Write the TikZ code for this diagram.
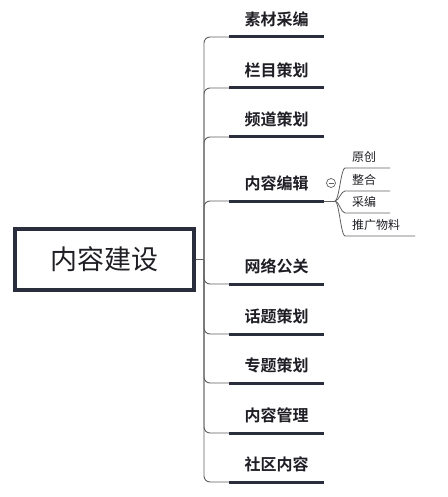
\documentclass[tikz,border=0pt]{standalone}
\usepackage{fontspec}
\setmainfont{Noto Sans CJK SC}
\newfontfamily\cjkbold{Noto Sans CJK SC Bold}
\definecolor{darkline}{RGB}{42,46,60}
\definecolor{thinline}{RGB}{95,95,95}
\definecolor{txt}{RGB}{30,30,36}
\begin{document}
\begin{tikzpicture}[x=1pt,y=-1pt,
  rootbox/.style={draw=darkline, line width=4pt, minimum width=179pt, minimum height=61pt, inner sep=0pt, font=\fontsize{27}{30}\selectfont, text=txt},
  branchlabel/.style={font=\cjkbold\fontsize{16}{18}\selectfont, text=txt, inner sep=0pt},
  sublabel/.style={font=\fontsize{12}{14}\selectfont, text=txt, inner sep=0pt, anchor=west},
  thickline/.style={draw=darkline, line width=3pt},
  thinlink/.style={draw=thinline, line width=0.9pt, rounded corners=6pt},
  sublink/.style={draw=thinline, line width=0.8pt}]
\useasboundingbox (0,0) rectangle (447,497);
\node[rootbox] (root) at (104.5,259.5) {内容建设};
\coordinate (trunk) at (204,259.5);
\draw[thinlink] (root.east) -- (trunk);
% branches
\foreach \y/\t/\n in {37/素材采编/b1, 88/栏目策划/b2, 137/频道策划/b3, 201/内容编辑/b4, 284/网络公关/b5, 334/话题策划/b6, 383/专题策划/b7, 433/内容管理/b8, 482/社区内容/b9}{
  \coordinate (\n s) at (229,\y);
  \coordinate (\n e) at (324,\y);
  \draw[thinlink] (trunk) |- (\n s);
  \draw[thickline] (\n s) -- (\n e);
  \node[branchlabel] (\n) at (276.5,\y-18) {\t};
}
% sub-branches of 内容编辑
\coordinate (hub) at (335,201);
\draw[sublink] (b4e) -- (hub);
\node[circle, draw=thinline, line width=0.7pt, minimum size=9pt, inner sep=0pt] (fold) at (331,183) {};
\draw[thinline, line width=0.7pt] ([xshift=-2.5pt]fold.center) -- ([xshift=2.5pt]fold.center);
\foreach \y/\t/\n/\w in {168/原创/s1/390, 191/整合/s2/390, 213/采编/s3/390, 236/推广物料/s4/415}{
  \coordinate (\n s) at (345,\y);
  \coordinate (\n e) at (\w,\y);
  \draw[sublink] (hub) .. controls (339,201) and (341,\y) .. (\n s) -- (\n e);
  \node[sublabel] (\n) at (352,\y-11) {\t};
}
\end{tikzpicture}
\end{document}
